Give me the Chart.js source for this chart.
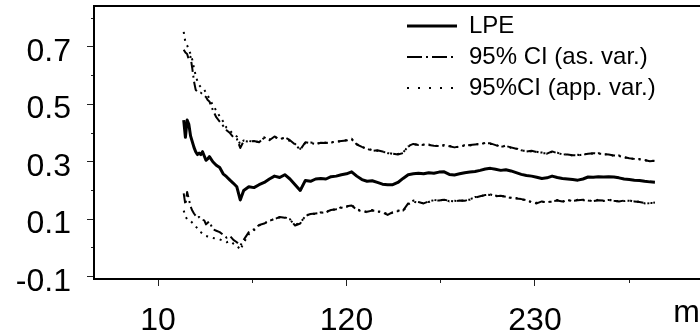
<!DOCTYPE html>
<html>
<head>
<meta charset="utf-8">
<script src="https://cdn.jsdelivr.net/npm/chart.js@4/dist/chart.umd.min.js"></script>
<style>
  html, body { margin: 0; padding: 0; background: #fff; }
  canvas { display: block; }
</style>
</head>
<body>
<canvas id="chart" width="700" height="336"></canvas>
<script>
// ─── Data ────────────────────────────────────────────────────────────────────

const M = [
  25, 26, 27, 28, 29, 30, 31, 32, 33, 34, 35, 36, 37, 38, 39, 40,
  42, 44, 46, 48, 50, 52, 54, 56, 58, 60,
  63, 66, 69, 72, 75, 78, 81, 84, 87, 90,
  93, 96, 99, 102, 105, 108, 111, 114, 117, 120,
  123, 126, 129, 132, 135, 138, 141, 144, 147, 150,
  153, 156, 159, 162, 165, 168, 171, 174, 177, 180,
  183, 186, 189, 192, 195, 198, 201, 204, 207, 210,
  213, 216, 219, 222, 225, 228, 231, 234, 237, 240,
  243, 246, 249, 252, 255, 258, 261, 264, 267, 270,
  273, 276, 279, 282, 285, 288, 291, 294, 297, 300
];

const LPE = [
  0.445, 0.385, 0.445, 0.43, 0.39, 0.37, 0.35, 0.335, 0.325, 0.33, 0.325, 0.335, 0.32, 0.305, 0.31, 0.318,
  0.30, 0.288, 0.28, 0.258, 0.248, 0.236, 0.225, 0.213, 0.167, 0.2,
  0.213, 0.21, 0.22, 0.228, 0.24, 0.25, 0.245, 0.255, 0.24, 0.22,
  0.2, 0.235, 0.232, 0.24, 0.242, 0.24, 0.248, 0.25, 0.255, 0.258,
  0.265, 0.25, 0.238, 0.232, 0.234, 0.228, 0.222, 0.22, 0.22, 0.228,
  0.242, 0.255, 0.258, 0.26, 0.258, 0.262, 0.26, 0.264, 0.265, 0.256,
  0.254, 0.258, 0.262, 0.264, 0.266, 0.27, 0.275, 0.277, 0.274, 0.27,
  0.272, 0.268, 0.262, 0.256, 0.252, 0.25, 0.246, 0.242, 0.244, 0.25,
  0.245, 0.242, 0.24, 0.238, 0.236, 0.24, 0.247, 0.246, 0.248, 0.247,
  0.248, 0.247, 0.244, 0.24, 0.238, 0.236, 0.235, 0.232, 0.23, 0.229
];

// upper / lower bounds, asymptotic variance (dash-dot)
const UPPER_AS = [
  0.69, 0.68, 0.675, 0.655, 0.665, 0.625, 0.58, 0.55, 0.545, 0.54, 0.54, 0.535, 0.53, 0.525, 0.515, 0.51,
  0.48, 0.455, 0.44, 0.425, 0.41, 0.4, 0.385, 0.38, 0.348, 0.372,
  0.37, 0.372, 0.368, 0.385, 0.375, 0.388, 0.378, 0.385, 0.375, 0.36,
  0.342, 0.368, 0.365, 0.362, 0.366, 0.365, 0.368, 0.37, 0.372, 0.374,
  0.38, 0.36, 0.352, 0.345, 0.338, 0.34, 0.336, 0.33, 0.328, 0.325,
  0.33, 0.355, 0.362, 0.358, 0.36, 0.358, 0.356, 0.355, 0.358, 0.354,
  0.35, 0.353, 0.356, 0.358, 0.36, 0.362, 0.365, 0.364, 0.358, 0.352,
  0.355, 0.35, 0.345, 0.34, 0.336, 0.338, 0.334, 0.332, 0.328, 0.336,
  0.33, 0.326, 0.325, 0.323, 0.322, 0.325, 0.328, 0.33, 0.328, 0.327,
  0.325, 0.322, 0.32, 0.316, 0.312, 0.31, 0.308, 0.306, 0.302, 0.304
];

const LOWER_AS = [
  0.19, 0.15, 0.195, 0.17, 0.145, 0.13, 0.12, 0.112, 0.104, 0.108, 0.1, 0.098, 0.096, 0.082, 0.088, 0.092,
  0.065, 0.06, 0.055, 0.046, 0.036, 0.042, 0.028, 0.02, 0.008, 0.028,
  0.055, 0.065, 0.08, 0.085, 0.095, 0.1, 0.108, 0.105, 0.1, 0.078,
  0.085, 0.112, 0.118, 0.12, 0.122, 0.125, 0.132, 0.135, 0.14, 0.145,
  0.148, 0.132, 0.128, 0.126, 0.13, 0.128, 0.124, 0.115, 0.125, 0.128,
  0.13, 0.155, 0.165, 0.16, 0.155, 0.162, 0.166, 0.165, 0.168, 0.164,
  0.162, 0.165, 0.164, 0.17, 0.175, 0.18, 0.184, 0.186, 0.18, 0.182,
  0.178, 0.175, 0.172, 0.17, 0.166, 0.16, 0.155, 0.162, 0.158, 0.163,
  0.165, 0.162, 0.166, 0.164, 0.166, 0.168, 0.165, 0.163, 0.166, 0.165,
  0.167, 0.164, 0.162, 0.165, 0.164, 0.162, 0.16, 0.157, 0.155, 0.158
];

// upper / lower bounds, approximate variance (dotted)
const UPPER_APP = [
  0.752, 0.715, 0.705, 0.69, 0.675, 0.655, 0.625, 0.6, 0.58, 0.567, 0.56, 0.555, 0.55, 0.54, 0.53, 0.52,
  0.497, 0.478, 0.458, 0.44, 0.418, 0.408, 0.396, 0.388, 0.36, 0.374,
  0.372, 0.37, 0.37, 0.383, 0.377, 0.386, 0.38, 0.383, 0.372, 0.362,
  0.345, 0.366, 0.367, 0.364, 0.364, 0.367, 0.366, 0.372, 0.37, 0.376,
  0.378, 0.362, 0.35, 0.347, 0.34, 0.338, 0.334, 0.332, 0.327, 0.327,
  0.332, 0.353, 0.36, 0.36, 0.358, 0.36, 0.354, 0.357, 0.356, 0.355,
  0.352, 0.351, 0.358, 0.356, 0.362, 0.36, 0.366, 0.362, 0.36, 0.35,
  0.357, 0.348, 0.347, 0.338, 0.338, 0.336, 0.335, 0.33, 0.33, 0.334,
  0.332, 0.324, 0.327, 0.321, 0.324, 0.323, 0.33, 0.328, 0.33, 0.325,
  0.327, 0.32, 0.322, 0.314, 0.314, 0.308, 0.31, 0.304, 0.304, 0.302
];

const LOWER_APP = [
  0.13, 0.11, 0.1, 0.098, 0.094, 0.088, 0.082, 0.075, 0.068, 0.06, 0.055, 0.05, 0.046, 0.042, 0.04, 0.038,
  0.035, 0.032, 0.03, 0.025, 0.02, 0.024, 0.015, 0.01, -0.007, 0.018,
  0.048, 0.062, 0.078, 0.086, 0.093, 0.102, 0.106, 0.107, 0.098, 0.08,
  0.088, 0.11, 0.12, 0.118, 0.124, 0.123, 0.134, 0.133, 0.142, 0.143,
  0.15, 0.134, 0.13, 0.124, 0.132, 0.126, 0.126, 0.117, 0.123, 0.13,
  0.128, 0.152, 0.162, 0.156, 0.157, 0.16, 0.168, 0.163, 0.17, 0.162,
  0.164, 0.163, 0.166, 0.168, 0.177, 0.178, 0.186, 0.184, 0.182, 0.18,
  0.18, 0.173, 0.174, 0.168, 0.168, 0.158, 0.157, 0.16, 0.16, 0.161,
  0.167, 0.16, 0.168, 0.162, 0.168, 0.166, 0.167, 0.161, 0.168, 0.163,
  0.169, 0.162, 0.164, 0.163, 0.166, 0.16, 0.162, 0.155, 0.157, 0.156
];

const X_TICKS   = [10, 65, 120, 175, 230, 285];
const X_LABELED = [10, 120, 230];
const Y_TICKS   = [-0.1, 0, 0.1, 0.2, 0.3, 0.4, 0.5, 0.6, 0.7, 0.8];
const Y_LABELED = [-0.1, 0.1, 0.3, 0.5, 0.7];

const NAME_LPE = 'LPE';
const NAME_AS  = '95% CI (as. var.)';
const NAME_APP = '95%CI (app. var.)';

// ─── Style ───────────────────────────────────────────────────────────────────

const X_MIN = -27.35, X_MAX = 326.3;
const Y_MIN = -0.108, Y_MAX = 0.842;

const DASH_AS  = [10, 4, 2, 4];
const DASH_APP = [2, 5];
const LEGEND_DASH = [[], [15, 4, 2, 4], [2, 9]];

Chart.defaults.font.family = '"Liberation Sans", Arial, sans-serif';
Chart.defaults.color = '#000';

// legend sits inside the plot, top right
const placeLegend = {
  id: 'placeLegend',
  afterLayout(chart) {
    chart.legend.left = 400;
    chart.legend.top = 7;
  }
};

const line = (label, data, width, dash) => ({
  label, data,
  borderColor: '#000',
  borderWidth: width,
  borderDash: dash,
  borderJoinStyle: 'round',
  fill: false
});

new Chart(document.getElementById('chart'), {
  type: 'line',
  data: {
    labels: M,
    datasets: [
      line(NAME_LPE, LPE, 3, []),
      line(NAME_AS, UPPER_AS, 2, DASH_AS),
      line(NAME_APP, UPPER_APP, 2, DASH_APP),
      line(NAME_AS, LOWER_AS, 2, DASH_AS),
      line(NAME_APP, LOWER_APP, 2, DASH_APP)
    ]
  },
  plugins: [placeLegend],
  options: {
    responsive: false,
    animation: false,
    layout: { padding: { top: 6, left: 0, right: 0, bottom: 0 } },
    elements: {
      point: { radius: 0 },
      line: { tension: 0 }
    },
    plugins: {
      tooltip: { enabled: false },
      legend: {
        position: 'chartArea',
        align: 'start',
        labels: {
          usePointStyle: true,
          pointStyle: 'line',
          pointStyleWidth: 50,
          padding: 7,
          color: '#000',
          font: { size: 24 },
          generateLabels: chart =>
            Chart.defaults.plugins.legend.labels.generateLabels(chart)
              .filter(item => item.datasetIndex < 3)
              .map(item => Object.assign(item, { lineDash: LEGEND_DASH[item.datasetIndex] }))
        }
      }
    },
    scales: {
      x: {
        type: 'linear',
        min: X_MIN, max: X_MAX,
        afterBuildTicks: s => { s.ticks = X_TICKS.map(v => ({ value: v })); },
        afterFit: s => { s.height = 57; s.paddingLeft = 0; s.paddingRight = 0; },
        border: { color: '#000', width: 2 },
        grid: {
          drawOnChartArea: false,
          tickLength: 7,
          tickColor: '#222',
          tickWidth: 1,
          tickBorderDash: ctx => X_LABELED.includes(ctx.tick.value) ? [] : [3, 100]
        },
        ticks: {
          autoSkip: false,
          maxRotation: 0,
          padding: 16,
          color: '#000',
          font: { size: 32 },
          callback: v => X_LABELED.includes(v) ? String(v) : ''
        },
        title: {
          display: true,
          text: 'm',
          align: 'end',
          color: '#000',
          font: { size: 32 },
          padding: { top: 0, bottom: 4 }
        }
      },
      xTop: {
        type: 'linear',
        position: 'top',
        min: X_MIN, max: X_MAX,
        afterFit: s => { s.height = 0; },
        border: { color: '#000', width: 2 },
        grid: { drawOnChartArea: false, drawTicks: false },
        ticks: { display: false }
      },
      y: {
        min: Y_MIN, max: Y_MAX,
        afterBuildTicks: s => { s.ticks = Y_TICKS.map(v => ({ value: v })); },
        afterFit: s => { s.width = 94; s.paddingTop = 0; s.paddingBottom = 0; },
        border: { color: '#000', width: 2 },
        grid: {
          drawOnChartArea: false,
          tickLength: 7,
          tickColor: '#222',
          tickWidth: 1,
          tickBorderDash: ctx => Y_LABELED.includes(ctx.tick.value) ? [] : [0, 4, 3, 100]
        },
        ticks: {
          padding: 16,
          color: '#000',
          // the figure prints its y labels a few pixels under the tick marks;
          // an empty first line with a 10px line height pushes them down 5px
          font: { size: 32, lineHeight: '10px' },
          callback: v => Y_LABELED.includes(v) ? ['', v.toFixed(1)] : ''
        }
      }
    }
  }
});
</script>
</body>
</html>
